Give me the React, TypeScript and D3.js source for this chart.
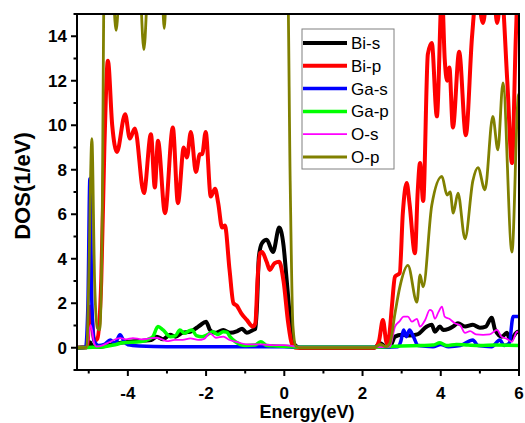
import React from "react";
import * as d3 from "d3";

type P = [number, number];

const xTicks = [-4, -2, 0, 2, 4, 6];
const xMinor = [-5, -3, -1, 1, 3, 5];
const yTicks = [0, 2, 4, 6, 8, 10, 12, 14];
const yMinor = [-1, 1, 3, 5, 7, 9, 11, 13, 15];

const seriesNames = ["Bi-s", "Bi-p", "Ga-s", "Ga-p", "O-s", "O-p"];
const seriesColors = ["#000000", "#ff0000", "#0000ff", "#00ff00", "#ff00ff", "#808000"];
const seriesWidths = [4, 4, 3.5, 3.5, 1.8, 2.8];

const biS: P[] = [[-5.3,0],[-5.05,0.02],[-4.97,0.25],[-4.9,0.05],[-4.7,0.05],[-4.5,0.12],[-4.2,0.22],[-3.9,0.28],[-3.6,0.32],[-3.4,0.35],[-3.26,0.5],[-3.1,0.38],[-2.92,0.58],[-2.78,0.5],[-2.61,0.67],[-2.41,0.72],[-2.24,0.9],[-2.16,1.0],[-2.0,1.17],[-1.9,0.8],[-1.77,0.67],[-1.56,0.8],[-1.39,0.67],[-1.2,0.75],[-1.08,0.85],[-0.96,0.67],[-0.8,0.8],[-0.74,0.85],[-0.7,1.85],[-0.65,4.1],[-0.57,4.7],[-0.45,4.85],[-0.29,4.3],[-0.13,5.4],[-0.02,4.6],[0.06,3.05],[0.2,0.5],[0.28,0.1],[0.4,0],[2.3,0],[2.45,0.2],[2.6,0.05],[2.7,0.05],[2.83,0.5],[3.0,0.58],[3.2,0.55],[3.4,0.6],[3.64,0.95],[3.77,1.03],[3.85,0.72],[3.98,0.95],[4.06,0.8],[4.2,0.85],[4.31,0.95],[4.44,1.1],[4.62,0.95],[4.82,1.03],[5.0,0.9],[5.15,0.95],[5.3,1.35],[5.39,0.8],[5.56,0.5],[5.69,0.67],[5.77,0.36],[5.97,0.72],[6,0.7]];

const biP: P[] = [[-5.3,0],[-5.05,0.02],[-4.95,1.85],[-4.86,0.3],[-4.78,0.4],[-4.68,3],[-4.6,9],[-4.51,12.9],[-4.4,10],[-4.28,8.8],[-4.07,10.5],[-3.95,9.4],[-3.82,9.85],[-3.59,6.95],[-3.41,9.6],[-3.31,7.2],[-3.23,9.3],[-3.05,6.05],[-2.85,9.9],[-2.72,6.5],[-2.57,9.0],[-2.49,8.55],[-2.39,9.7],[-2.26,7.9],[-2.16,8.7],[-2.1,8.7],[-2.01,9.7],[-1.88,6.8],[-1.77,7.15],[-1.69,6.5],[-1.59,5.4],[-1.52,5.5],[-1.4,3.5],[-1.3,2.0],[-1.22,1.9],[-1.1,1.55],[-0.96,1.25],[-0.8,0.95],[-0.74,1.1],[-0.68,3.2],[-0.62,4.25],[-0.57,4.3],[-0.45,3.85],[-0.37,3.5],[-0.25,3.8],[-0.13,3.86],[-0.02,3.0],[0.1,1.1],[0.19,0.2],[0.3,0],[2.3,0],[2.42,0.3],[2.52,1.25],[2.62,0.2],[2.68,0.5],[2.75,1.85],[2.83,3.2],[2.95,3.35],[3.03,6.05],[3.13,7.4],[3.2,6.5],[3.34,4.25],[3.41,7.0],[3.47,8.3],[3.55,6.6],[3.67,13.2],[3.77,13.7],[3.9,10.4],[4.03,16],[4.1,13],[4.16,12.0],[4.22,12.6],[4.31,9.9],[4.47,13.3],[4.64,9.55],[4.8,14],[4.92,16],[5.08,14.6],[5.2,16],[5.35,16],[5.44,14.6],[5.55,16],[5.7,12],[5.82,8.3],[5.92,14],[5.97,16],[6,16]];

const gaS: P[] = [[-5.3,0],[-5.08,0.02],[-5.02,2],[-4.97,7.6],[-4.92,2],[-4.86,0.3],[-4.75,0.1],[-4.6,0.15],[-4.45,0.35],[-4.33,0.2],[-4.2,0.58],[-4.1,0.3],[-4.0,0.13],[-3.7,0.08],[-3,0.05],[-1,0.05],[0,0.05],[0.3,0.02],[2.3,0.02],[2.9,0.05],[2.98,0.3],[3.05,0.8],[3.12,0.5],[3.2,0.8],[3.3,0.5],[3.42,0.1],[3.8,0.05],[4.0,0.15],[4.2,0.05],[4.5,0.1],[4.82,0.35],[4.95,0.1],[5.3,0.05],[5.51,0.35],[5.62,0.1],[5.75,0.2],[5.85,1.4],[6,1.4]];

const gaP: P[] = [[-5.3,0],[-4.9,0.02],[-4.6,0.05],[-4.3,0.15],[-4.12,0.22],[-3.7,0.27],[-3.45,0.4],[-3.36,0.5],[-3.23,0.95],[-3.1,0.8],[-2.92,0.5],[-2.78,0.55],[-2.67,0.8],[-2.55,0.65],[-2.45,0.75],[-2.36,0.8],[-2.25,0.55],[-2.1,0.5],[-1.95,0.6],[-1.83,0.72],[-1.7,0.6],[-1.56,0.72],[-1.47,0.7],[-1.39,0.5],[-1.25,0.27],[-1.0,0.1],[-0.75,0.12],[-0.6,0.27],[-0.45,0.1],[-0.2,0.08],[0.2,0.05],[0.4,0.02],[2.3,0.02],[2.6,0.05],[3.0,0.08],[3.5,0.1],[3.8,0.12],[3.98,0.22],[4.15,0.1],[4.4,0.15],[4.7,0.12],[5.0,0.1],[5.4,0.12],[6,0.1]];

const oS: P[] = [[-5.3,0],[-5.05,0.02],[-4.95,1.03],[-4.86,0.2],[-4.8,0.05],[-4.62,0.13],[-4.45,0.27],[-4.2,0.43],[-4.05,0.38],[-3.87,0.43],[-3.65,0.38],[-3.45,0.42],[-3.26,0.45],[-3.0,0.3],[-2.8,0.35],[-2.6,0.35],[-2.4,0.42],[-2.2,0.35],[-2.05,0.4],[-1.9,0.65],[-1.75,0.45],[-1.56,0.5],[-1.4,0.35],[-1.2,0.25],[-0.96,0.15],[-0.6,0.15],[-0.3,0.12],[0.0,0.12],[0.3,0.05],[0.5,0.02],[2.3,0.02],[2.7,0.05],[2.83,0.95],[2.95,1.2],[3.05,1.4],[3.16,1.4],[3.26,1.17],[3.39,1.3],[3.47,0.95],[3.6,1.25],[3.72,1.7],[3.78,1.65],[3.85,1.3],[3.94,1.6],[4.03,1.85],[4.1,1.4],[4.22,1.3],[4.36,1.1],[4.5,1.0],[4.62,0.67],[4.75,0.75],[4.9,0.6],[5.08,0.58],[5.25,0.6],[5.44,0.8],[5.55,0.5],[5.69,0.4],[5.82,0.27],[5.95,0.72],[6,0.7]];

const oP: P[] = [[-5.3,0],[-5.05,0.02],[-5.0,3],[-4.92,9.4],[-4.85,3],[-4.78,0.9],[-4.72,0.8],[-4.66,5],[-4.6,17],[-4.42,17],[-4.3,14.26],[-4.18,17],[-3.72,17],[-3.59,13.4],[-3.46,17],[-3.15,17],[-3.07,14.35],[-2.99,17],[0.08,17],[0.15,7.5],[0.22,1.0],[0.3,0.05],[0.4,0],[2.3,0],[2.45,0.15],[2.6,0.05],[2.7,0.2],[2.83,1.55],[2.95,2.7],[3.16,3.7],[3.39,2.05],[3.47,3.27],[3.55,2.74],[3.77,6.4],[4.03,7.7],[4.16,6.86],[4.24,7.0],[4.32,6.05],[4.44,6.95],[4.62,4.9],[4.82,7.5],[4.95,8.1],[5.13,7.1],[5.33,10.4],[5.46,8.9],[5.59,11.9],[5.82,4.3],[5.98,11.3],[6,11.4]];

const allSeries = [biS, biP, gaS, gaP, oS, oP];

const L = 77, R = 519, T = 14, B = 370;
const FONT = "'Liberation Sans', Arial, sans-serif";

export default function App() {
  const x = d3.scaleLinear().domain([-5.3, 6]).range([L, R]);
  const y = d3.scaleLinear().domain([-1, 15]).range([B, T]);
  const line = d3.line<P>().x(d => x(d[0])).y(d => y(d[1])).curve(d3.curveMonotoneX);

  const legX = 302, legY = 29, legW = 92, legH = 140;
  const legStep = 22.8;

  return (
    <svg width={525} height={423} style={{ position: "absolute", left: 0, top: 0, background: "#fff" }}>
      <defs>
        <clipPath id="plotClip">
          <rect x={L} y={T} width={R - L} height={B - T} />
        </clipPath>
      </defs>
      <rect x={0} y={0} width={525} height={423} fill="#fff" />
      <g clipPath="url(#plotClip)">
        {allSeries.map((s, i) => (
          <path key={i} d={line(s) || ""} fill="none" stroke={seriesColors[i]} strokeWidth={seriesWidths[i]} strokeLinejoin="round" strokeLinecap="round" />
        ))}
      </g>
      <rect x={L} y={T} width={R - L} height={B - T} fill="none" stroke="#000" strokeWidth={2} />
      {xTicks.map(t => (
        <g key={"xt" + t}>
          <line x1={x(t)} x2={x(t)} y1={B} y2={B + 6} stroke="#000" strokeWidth={2} />
          <text x={x(t)} y={399} textAnchor="middle" fontFamily={FONT} fontWeight="bold" fontSize={17}>{String(t)}</text>
        </g>
      ))}
      {xMinor.map(t => (
        <line key={"xm" + t} x1={x(t)} x2={x(t)} y1={B} y2={B + 3.5} stroke="#000" strokeWidth={2} />
      ))}
      {yTicks.map(t => (
        <g key={"yt" + t}>
          <line x1={L} x2={L - 6} y1={y(t)} y2={y(t)} stroke="#000" strokeWidth={2} />
          <text x={67} y={y(t) + 6} textAnchor="end" fontFamily={FONT} fontWeight="bold" fontSize={17}>{String(t)}</text>
        </g>
      ))}
      {yMinor.map(t => (
        <line key={"ym" + t} x1={L} x2={L - 3.5} y1={y(t)} y2={y(t)} stroke="#000" strokeWidth={2} />
      ))}
      <text x={307} y={418} textAnchor="middle" fontFamily={FONT} fontWeight="bold" fontSize={18}>Energy(eV)</text>
      <text transform="translate(30,186) rotate(-90)" textAnchor="middle" fontFamily={FONT} fontWeight="bold" fontSize={22}>DOS(1/eV)</text>
      <rect x={legX} y={legY} width={legW} height={legH} fill="#fff" stroke="#808080" strokeWidth={1} />
      {seriesNames.map((n, i) => {
        const cy = 43 + i * legStep;
        return (
          <g key={n}>
            <line x1={303} x2={347} y1={cy} y2={cy} stroke={seriesColors[i]} strokeWidth={seriesWidths[i]} />
            <text x={351} y={cy + 6} fontFamily={FONT} fontSize={17}>{n}</text>
          </g>
        );
      })}
    </svg>
  );
}
